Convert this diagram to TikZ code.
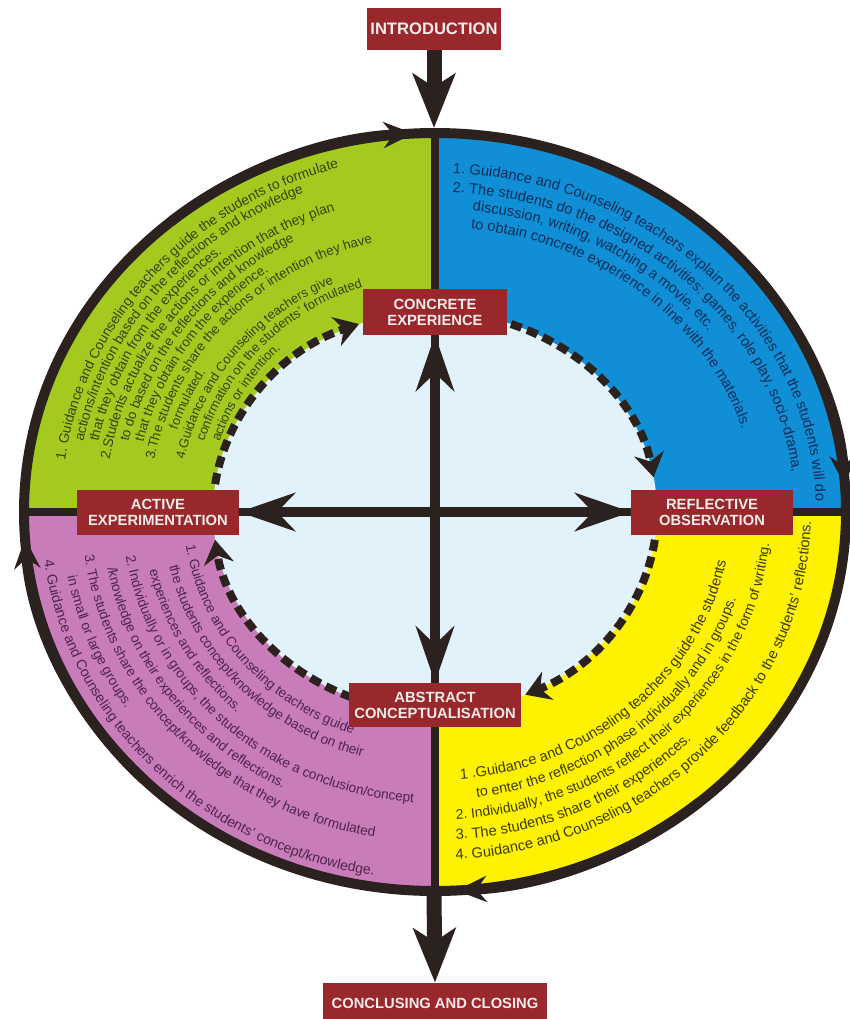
\documentclass[tikz,border=0pt]{standalone}
\usepackage{fontspec}
\setmainfont{Liberation Sans}
\setsansfont{Liberation Sans}
\usetikzlibrary{arrows.meta,decorations.text}

\definecolor{qgreen}{RGB}{165,202,31}
\definecolor{qblue}{RGB}{16,143,214}
\definecolor{qpink}{RGB}{201,124,186}
\definecolor{qyellow}{RGB}{255,242,0}
\definecolor{qinner}{RGB}{225,242,251}
\definecolor{boxred}{RGB}{152,40,44}
\definecolor{boxtext}{RGB}{243,234,234}
\definecolor{ink}{RGB}{43,33,31}
\definecolor{gtext}{RGB}{52,68,16}
\definecolor{btext}{RGB}{14,44,86}
\definecolor{ptext}{RGB}{78,36,74}
\definecolor{ytext}{RGB}{60,58,14}

\newcommand\qsize{10}
\newcommand\quadfont{\sffamily\fontsize{\qsize}{11}\selectfont}
\newcommand\arcline[6]{%
  \path[decorate,decoration={text along path,text align=left,text color=#1,
      text={|\quadfont|#6}}]
    (ctr) ++(#4:#2 and #3) arc[start angle=#4,end angle=#5,x radius=#2,y radius=#3];}

\tikzset{
  stage/.style={fill=boxred,text=boxtext,align=center,inner sep=0pt,
    font=\sffamily\bfseries\fontsize{10.5}{11.5}\selectfont},
  bigarrow/.style={draw=ink,line width=0.375cm,
    -{Stealth[length=1.35cm,width=1.05cm,inset=0.33cm]}},
  crossarrow/.style={draw=ink,line width=0.25cm,
    {Stealth[length=1.4cm,width=0.95cm,inset=0.45cm]}-{Stealth[length=1.4cm,width=0.95cm,inset=0.45cm]}},
  cyclearrow/.style={draw=ink,line width=0.2cm,dash pattern=on 0.28cm off 0.15cm,
    -{Stealth[length=0.6cm,width=0.75cm,inset=0.2cm]}},
  ringarrow/.style={draw=ink,line width=0.25cm,
    -{Stealth[length=0.75cm,width=0.65cm,inset=0.25cm]}},
  divider/.style={draw=ink,line width=0.22cm}
}

\begin{document}
\begin{tikzpicture}[x=0.025cm,y=0.025cm,semithick]
  \useasboundingbox (0,0) rectangle (849,-1019);
  \coordinate (ctr) at (435,-512);
  \coordinate (ringtop) at (434,-128);
  \coordinate (ringbot) at (434,-895);

  \fill[qgreen] (ctr) -- ++(-411,0) arc[start angle=180,end angle=90,x radius=411,y radius=379] -- cycle;
  \fill[qblue] (ctr) -- ++(0,379) arc[start angle=90,end angle=0,x radius=411,y radius=379] -- cycle;
  \fill[qyellow] (ctr) -- ++(411,0) arc[start angle=0,end angle=-90,x radius=411,y radius=379] -- cycle;
  \fill[qpink] (ctr) -- ++(0,-379) arc[start angle=270,end angle=180,x radius=411,y radius=379] -- cycle;
  \fill[qinner] (ctr) ellipse[x radius=222,y radius=200];

  \renewcommand\qsize{9.8}
  \arcline{gtext}{374}{356}{171.6}{40}{1. Guidance and Counseling teachers guide the students to formulate}
  \arcline{gtext}{359.3}{342.6}{168.2}{40}{actions/intention based on the reflections and knowledge}
  \arcline{gtext}{344.6}{329.2}{167.7}{40}{that they obtain from the experiences.}
  \arcline{gtext}{329.9}{315.8}{170.5}{40}{2.Students actualize the actions or intention that they plan}
  \renewcommand\qsize{9.5}
  \arcline{gtext}{315.2}{302.4}{166.6}{40}{to do based on the reflections and knowledge}
  \arcline{gtext}{300.5}{289}{166}{40}{that they obtain from the experience.}
  \arcline{gtext}{285.8}{275.6}{169.1}{40}{3.The students share the actions or intention they have}
  \renewcommand\qsize{9.2}
  \arcline{gtext}{271.1}{262.2}{161.8}{40}{formulated.}
  \arcline{gtext}{256.4}{248.8}{167.9}{40}{4.Guidance and Counseling teachers give}
  \arcline{gtext}{241.7}{235.4}{162.7}{40}{confirmation on the students' formulated}
  \arcline{gtext}{227}{222}{161.6}{40}{actions or intention.}

  \renewcommand\qsize{10.4}
  \arcline{btext}{381}{339}{87.3}{-30}{1. Guidance and Counseling teachers explain the activities that the students will do}
  \arcline{btext}{360}{320}{87.2}{-30}{2. The students do the designed activities: games, role play, socio-drama,}
  \arcline{btext}{341}{303}{83.7}{-30}{discussion, writing, watching a movie, etc.}
  \arcline{btext}{321}{285}{83.6}{-30}{to obtain concrete experience in line with the materials.}

  \arcline{ytext}{296}{268}{274.9}{420}{1 .Guidance and Counseling teachers guide the students}
  \renewcommand\qsize{10.1}
  \arcline{ytext}{316}{288}{277.6}{420}{to enter the reflection phase individually and in groups.}
  \renewcommand\qsize{9.9}
  \arcline{ytext}{336}{308}{273.6}{420}{2. Individually, the students reflect their experiences in the form of writing.}
  \renewcommand\qsize{10.4}
  \arcline{ytext}{356}{328}{273.4}{420}{3. The students share their experiences.}
  \arcline{ytext}{376}{348}{273.2}{420}{4. Guidance and Counseling teachers provide feedback to the students' reflections.}

  \renewcommand\qsize{9.7}
  \arcline{ptext}{251.5}{235}{188.1}{300}{1. Guidance and Counseling teachers guide}
  \arcline{ptext}{271.9}{254}{192.3}{300}{the students concept/knowledge based on their}
  \arcline{ptext}{292.3}{273}{192.3}{300}{experiences and reflections.}
  \arcline{ptext}{312.7}{291}{188.7}{300}{2. Individually or in groups, the students make a conclusion/concept}
  \arcline{ptext}{333.1}{311}{190.4}{300}{/knowledge on their experiences and reflections.}
  \arcline{ptext}{353.5}{330}{187.5}{300}{3. The students share the concept/knowledge that they have formulated}
  \arcline{ptext}{373.9}{349}{190.6}{300}{in small or large groups.}
  \renewcommand\qsize{10}
  \arcline{ptext}{394.3}{368}{187.5}{300}{4. Guidance and Counseling teachers enrich the students' concept/knowledge.}

  \draw[divider] (ctr) ++(0,379) -- ++(0,-758);
  \draw[divider] (ctr) ++(-411,0) -- ++(822,0);
  \draw[draw=ink,line width=0.25cm] (ctr) ellipse[x radius=411,y radius=379];

  \draw[ringarrow] (ctr) ++(130:411 and 379) arc[start angle=130,end angle=93,x radius=411,y radius=379];
  \draw[ringarrow] (ctr) ++(40:411 and 379) arc[start angle=40,end angle=4,x radius=411,y radius=379];
  \draw[ringarrow] (ctr) ++(-50:411 and 379) arc[start angle=-50,end angle=-87,x radius=411,y radius=379];
  \draw[ringarrow] (ctr) ++(225:411 and 379) arc[start angle=225,end angle=184,x radius=411,y radius=379];

  \draw[cyclearrow] (ctr) ++(70:222 and 200) arc[start angle=70,end angle=10,x radius=222,y radius=200];
  \draw[cyclearrow] (ctr) ++(-8:222 and 200) arc[start angle=-8,end angle=-66,x radius=222,y radius=200];
  \draw[cyclearrow] (ctr) ++(-112:222 and 200) arc[start angle=-112,end angle=-172,x radius=222,y radius=200];
  \draw[cyclearrow] (ctr) ++(172:222 and 200) arc[start angle=172,end angle=110,x radius=222,y radius=200];

  \node[stage,minimum width=3.325cm,minimum height=1.05cm,font=\sffamily\bfseries\fontsize{11.8}{13}\selectfont] (intro) at (434,-29) {INTRODUCTION};
  \node[stage,minimum width=3.6cm,minimum height=1.125cm] (ce) at (435,-312) {CONCRETE\\EXPERIENCE};
  \node[stage,minimum width=4.025cm,minimum height=1.125cm] (ae) at (158,-512) {ACTIVE\\EXPERIMENTATION};
  \node[stage,minimum width=4.025cm,minimum height=1.125cm] (ro) at (712,-512) {REFLECTIVE\\OBSERVATION};
  \node[stage,minimum width=4.275cm,minimum height=1.1cm] (ac) at (435,-705) {ABSTRACT\\CONCEPTUALISATION};
  \node[stage,minimum width=5.6cm,minimum height=1cm] (close) at (435,-1003) {CONCLUSING AND CLOSING};

  \draw[crossarrow] (ae.east) -- (ro.west);
  \draw[crossarrow] (ce.south) -- (ac.north);

  \draw[bigarrow] (intro.south) -- (ringtop);
  \draw[bigarrow] (ringbot) -- (close.north);
\end{tikzpicture}
\end{document}
